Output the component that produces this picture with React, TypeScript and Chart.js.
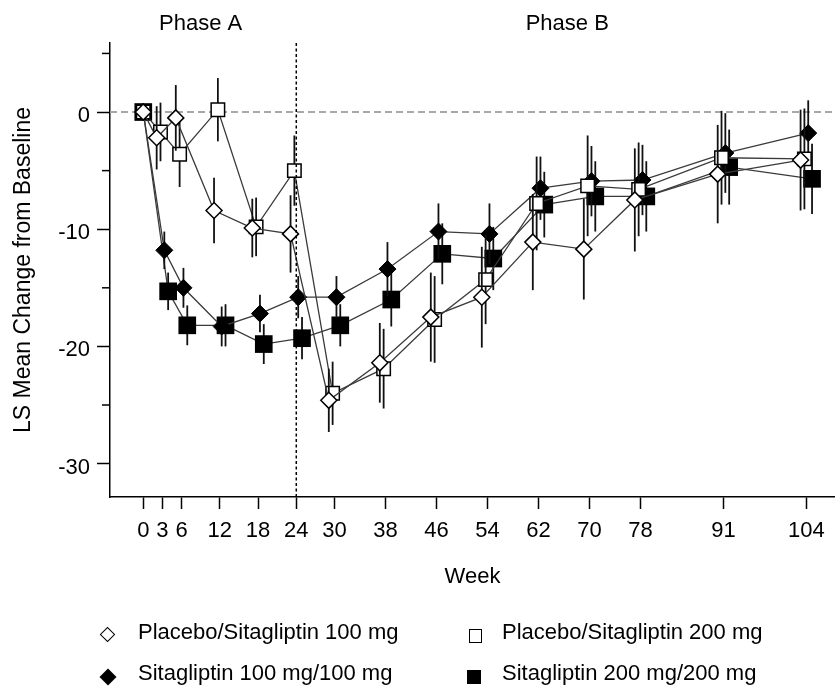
import React, { useEffect, useRef } from 'react';
import { Chart, registerables } from 'chart.js';

Chart.register(...registerables);

// ---------- data ----------
const weeks = [0, 3, 6, 12, 18, 24, 30, 38, 46, 54, 62, 70, 78, 91, 104];
const seriesNames = [
  'Placebo/Sitagliptin 100 mg',
  'Placebo/Sitagliptin 200 mg',
  'Sitagliptin 100 mg/100 mg',
  'Sitagliptin 200 mg/200 mg',
];
const placebo100 = [0, -2.2, -0.5, -8.4, -9.9, -10.4, -24.6, -21.4, -17.5, -15.8, -11.1, -11.7, -7.5, -5.3, -4.1];
const placebo100Err = [0, 2.7, 2.8, 2.8, 2.5, 3.3, 2.7, 3.4, 3.8, 4.3, 4.1, 4.3, 4.4, 4.2, 4.3];
const placebo200 = [0, -1.7, -3.6, 0.2, -9.8, -5.0, -24.0, -21.9, -17.7, -14.3, -7.8, -6.3, -6.6, -3.9, -4.0];
const placebo200Err = [0, 2.5, 2.8, 2.7, 2.5, 3.0, 2.7, 3.4, 3.7, 3.8, 4.0, 4.3, 4.0, 4.0, 4.3];
const sita100 = [0, -11.8, -15.0, -18.3, -17.2, -15.8, -15.8, -13.4, -10.2, -10.4, -6.5, -5.9, -5.8, -3.5, -1.8];
const sita100Err = [0, 1.6, 1.7, 1.7, 1.6, 1.8, 1.8, 2.3, 2.4, 2.6, 2.7, 3.0, 3.0, 3.4, 2.8];
const sita200 = [0, -15.3, -18.2, -18.2, -19.8, -19.3, -18.2, -16.0, -12.1, -12.5, -7.9, -7.2, -7.2, -4.7, -5.7];
const sita200Err = [0, 1.6, 1.7, 1.8, 1.7, 1.8, 1.8, 2.3, 2.6, 2.7, 2.8, 3.0, 3.0, 3.2, 3.0];
const yTicks = [-30, -25, -20, -15, -10, -5, 0, 5];
const phaseLabels = ['Phase A', 'Phase B'];
const phaseCenters = [9, 66.5];
const phaseSplitWeek = 24;

// ---------- styles ----------
const FONT = "'Liberation Sans', Arial, Helvetica, sans-serif";
const DODGE = [-0.9, -0.3, 0.3, 0.9];
const seriesValues = [placebo100, placebo200, sita100, sita200];
const seriesErrors = [placebo100Err, placebo200Err, sita100Err, sita200Err];
const markerStyles = [
  { pointStyle: 'rectRot', radius: 8, bg: '#ffffff', border: '#000000', bw: 1.5 },
  { pointStyle: 'rect', radius: 9.5, bg: '#ffffff', border: '#000000', bw: 1.5 },
  { pointStyle: 'rectRot', radius: 8.5, bg: '#000000', border: '#000000', bw: 1 },
  { pointStyle: 'rect', radius: 12.5, bg: '#000000', border: '#000000', bw: 0 },
];

const plotExtras = {
  id: 'plotExtras',
  beforeDatasetsDraw(chart: any) {
    const { ctx, chartArea, scales } = chart;
    const y0 = scales.y.getPixelForValue(0);
    ctx.save();
    ctx.strokeStyle = '#a8a8a8';
    ctx.lineWidth = 2;
    ctx.setLineDash([7, 4]);
    ctx.beginPath();
    ctx.moveTo(chartArea.left, y0);
    ctx.lineTo(chartArea.right, y0);
    ctx.stroke();
    ctx.restore();
  },
  beforeDatasetDraw(chart: any, args: any) {
    const { ctx, scales } = chart;
    const errs = seriesErrors[args.index];
    const vals = seriesValues[args.index];
    if (!errs) return;
    ctx.save();
    ctx.strokeStyle = '#111111';
    ctx.lineWidth = 1.8;
    args.meta.data.forEach((pt: any, i: number) => {
      if (!errs[i]) return;
      const yt = scales.y.getPixelForValue(vals[i] + errs[i]);
      const yb = scales.y.getPixelForValue(vals[i] - errs[i]);
      ctx.beginPath();
      ctx.moveTo(pt.x, yt);
      ctx.lineTo(pt.x, yb);
      ctx.stroke();
    });
    ctx.restore();
  },
  afterDatasetsDraw(chart: any) {
    const { ctx, chartArea, scales } = chart;
    const xs = scales.x.getPixelForValue(phaseSplitWeek);
    ctx.save();
    ctx.strokeStyle = '#000000';
    ctx.lineWidth = 1.5;
    ctx.setLineDash([3, 2.5]);
    ctx.beginPath();
    ctx.moveTo(xs, chartArea.top);
    ctx.lineTo(xs, chartArea.bottom);
    ctx.stroke();
    ctx.restore();
  },
  afterDraw(chart: any) {
    const { ctx, scales } = chart;
    const ys = scales.y;
    ctx.save();
    ctx.strokeStyle = '#000000';
    ctx.lineWidth = 1.5;
    yTicks.forEach((v) => {
      if (v % 10 === 0) return;
      const py = ys.getPixelForValue(v);
      ctx.beginPath();
      ctx.moveTo(ys.right - 8, py);
      ctx.lineTo(ys.right, py);
      ctx.stroke();
    });
    ctx.fillStyle = '#000000';
    ctx.font = `22px ${FONT}`;
    ctx.textAlign = 'center';
    ctx.textBaseline = 'alphabetic';
    phaseLabels.forEach((t, i) => {
      ctx.fillText(t, scales.x.getPixelForValue(phaseCenters[i]), 29.5);
    });
    ctx.restore();
  },
};

export default function App() {
  const ref = useRef<HTMLCanvasElement | null>(null);

  useEffect(() => {
    if (!ref.current) return;
    const datasets = seriesValues.map((vals, k) => {
      const st = markerStyles[k];
      return {
        label: seriesNames[k],
        data: weeks.map((w, i) => ({ x: w === 0 ? w : w + DODGE[k], y: vals[i] })),
        borderColor: '#3a3a3a',
        borderWidth: 1.3,
        tension: 0,
        fill: false,
        pointStyle: st.pointStyle,
        pointRadius: st.radius,
        pointHoverRadius: st.radius,
        pointBackgroundColor: st.bg,
        pointBorderColor: st.border,
        pointBorderWidth: st.bw,
        clip: false as any,
      };
    });
    const chart = new Chart(ref.current, {
      type: 'line',
      data: { datasets: datasets as any },
      options: {
        animation: false,
        responsive: false,
        events: [],
        layout: { autoPadding: false, padding: { top: 43, left: 0, right: 0, bottom: 93 } },
        plugins: { legend: { display: false }, tooltip: { enabled: false } },
        scales: {
          x: {
            type: 'linear',
            min: -5.22,
            max: 108.5,
            afterBuildTicks: (s: any) => {
              s.ticks = weeks.map((v) => ({ value: v }));
            },
            afterFit: (s: any) => {
              s.height = 100;
              s.paddingLeft = 0;
              s.paddingRight = 0;
            },
            ticks: {
              autoSkip: false,
              maxRotation: 0,
              minRotation: 0,
              padding: 9,
              color: '#000',
              font: { family: FONT, size: 22 },
              callback: (v: any) => String(v),
            },
            grid: { drawOnChartArea: false, drawTicks: true, tickLength: 12, tickWidth: 1.5, tickColor: '#000' },
            border: { display: true, color: '#000', width: 1.5 },
            title: {
              display: true,
              text: 'Week',
              color: '#000',
              font: { family: FONT, size: 22 },
              padding: { top: 0, bottom: 7 },
            },
          },
          y: {
            type: 'linear',
            min: -32.85,
            max: 5.89,
            afterBuildTicks: (s: any) => {
              s.ticks = yTicks.map((v) => ({ value: v }));
            },
            afterFit: (s: any) => {
              s.width = 110;
              s.paddingTop = 0;
              s.paddingBottom = 0;
            },
            ticks: {
              autoSkip: false,
              padding: 7,
              color: '#000',
              font: { family: FONT, size: 22, lineHeight: '8px' } as any,
              callback: (v: any) => (Number(v) % 10 === 0 ? ['', String(v)] : ''),
            },
            grid: {
              drawOnChartArea: false,
              drawTicks: true,
              tickLength: 13,
              tickWidth: 1.5,
              tickColor: (c: any) => (c.tick && c.tick.value % 10 !== 0 ? 'rgba(0,0,0,0)' : '#000'),
            },
            border: { display: true, color: '#000', width: 1.5 },
            title: {
              display: true,
              text: 'LS Mean Change from Baseline',
              color: '#000',
              font: { family: FONT, size: 23 },
              padding: { top: 10, bottom: 0 },
            },
          },
        },
      },
      plugins: [plotExtras],
    });
    return () => chart.destroy();
  }, []);

  const textStyle: React.CSSProperties = {
    position: 'absolute',
    fontFamily: FONT,
    fontSize: 22,
    lineHeight: '22px',
    color: '#000',
    whiteSpace: 'nowrap',
  };

  const legendRows = [621.4, 662.4];
  const legendTextX = [138, 502];

  return (
    <div style={{ position: 'absolute', left: 0, top: 0, width: 835, height: 690, background: '#fff', overflow: 'hidden' }}>
      <canvas ref={ref} width={835} height={690} style={{ position: 'absolute', left: 0, top: 0 }} />
      {/* legend markers */}
      <div style={{ position: 'absolute', left: 102.2, top: 628.5, width: 11, height: 11, boxSizing: 'border-box', border: '1.5px solid #000', background: '#fff', transform: 'rotate(45deg)' }} />
      <div style={{ position: 'absolute', left: 468.5, top: 628.5, width: 13, height: 14, boxSizing: 'border-box', border: '1.5px solid #000', background: '#fff' }} />
      <div style={{ position: 'absolute', left: 102.3, top: 670.7, width: 12, height: 12, background: '#000', transform: 'rotate(45deg)' }} />
      <div style={{ position: 'absolute', left: 467, top: 670, width: 14, height: 14, background: '#000' }} />
      {/* legend labels */}
      <div style={{ ...textStyle, left: legendTextX[0], top: legendRows[0] }}>{seriesNames[0]}</div>
      <div style={{ ...textStyle, left: legendTextX[1], top: legendRows[0] }}>{seriesNames[1]}</div>
      <div style={{ ...textStyle, left: legendTextX[0], top: legendRows[1] }}>{seriesNames[2]}</div>
      <div style={{ ...textStyle, left: legendTextX[1], top: legendRows[1] }}>{seriesNames[3]}</div>
    </div>
  );
}
